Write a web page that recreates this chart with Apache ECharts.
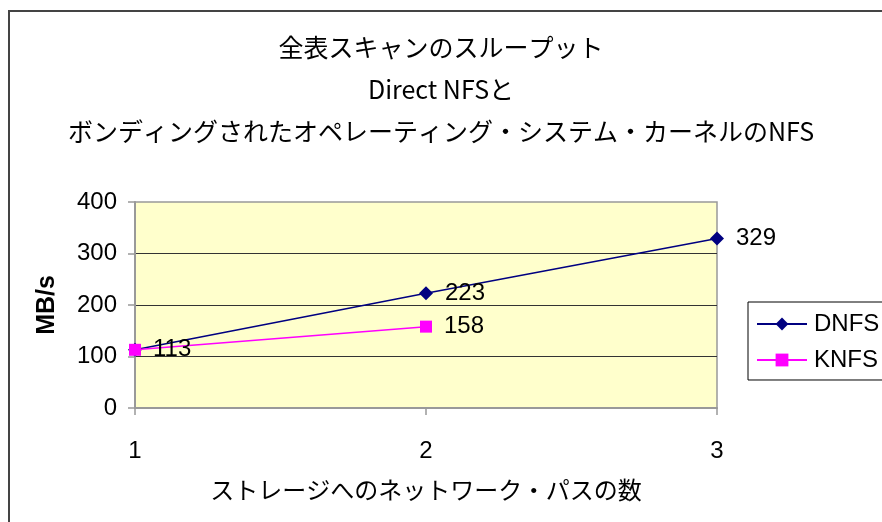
<!DOCTYPE html>
<html><head><meta charset="utf-8">
<script src="https://cdn.jsdelivr.net/npm/echarts@6/dist/echarts.min.js"></script>
<style>html,body{margin:0;padding:0;background:#fff}#c{width:882px;height:522px}</style>
</head><body><div id="c"></div>
<script>
const titleLines = ['全表スキャンのスループット', 'Direct NFSと', 'ボンディングされたオペレーティング・システム・カーネルのNFS'];
const xValues = [1, 2, 3];
const seriesNames = ['DNFS', 'KNFS'];
const dnfs = [113, 223, 329];
const knfs = [113, 158];
const yTicks = [0, 100, 200, 300, 400];
const xName = 'ストレージへのネットワーク・パスの数';
const yName = 'MB/s';

const latin = '"Liberation Sans", Arial, "Noto Sans CJK JP", sans-serif';
const cjk = '"Noto Sans CJK JP", "Liberation Sans", sans-serif';

const chart = echarts.init(document.getElementById('c'), null, {renderer: 'canvas'});
// DNFS label at x=1 coincides with KNFS label there; show it once
const toPairs = (arr, hideFirstLabel) => arr.map((v, i) => {
  const item = {value: [xValues[i], v]};
  if (hideFirstLabel && i === 0) item.label = {show: false};
  return item;
});
const labelFont = {fontFamily: latin, fontSize: 24, color: '#000'};

chart.setOption({
  animation: false,
  backgroundColor: '#fff',
  graphic: [{
    type: 'rect', silent: true, z: 100,
    shape: {x: 9, y: 11, width: 1000, height: 700},
    style: {fill: 'none', stroke: '#444', lineWidth: 2}
  }],
  title: {
    text: titleLines.join('\n'),
    left: 'center', top: 21,
    textStyle: {fontFamily: cjk, fontSize: 25, fontWeight: 'normal', color: '#000', lineHeight: 42}
  },
  legend: {
    left: 748, top: 302,
    orient: 'vertical',
    data: seriesNames,
    itemWidth: 50, itemHeight: 16, itemGap: 12,
    padding: [10, 60, 8, 8],
    borderColor: '#000', borderWidth: 1,
    backgroundColor: '#fff',
    textStyle: Object.assign({padding: [0, 0, 0, 2]}, labelFont)
  },
  grid: {
    left: 135, right: 165, top: 202, bottom: 114,
    show: true, backgroundColor: '#FFFFCC', borderColor: '#999', borderWidth: 1.5
  },
  xAxis: {
    type: 'value', min: 1, max: 3, interval: 1,
    name: xName, nameLocation: 'middle', nameGap: 70,
    nameTextStyle: {fontFamily: cjk, fontSize: 24, color: '#000'},
    axisLine: {show: true, lineStyle: {color: '#999', width: 2}},
    axisTick: {show: true, length: 7, lineStyle: {color: '#999', width: 1.5}},
    axisLabel: Object.assign({margin: 31}, labelFont),
    splitLine: {show: false}
  },
  yAxis: {
    type: 'value', min: yTicks[0], max: yTicks[yTicks.length - 1], interval: 100,
    name: yName, nameLocation: 'middle', nameGap: 75,
    nameTextStyle: {fontFamily: latin, fontSize: 25, fontWeight: 'bold', color: '#000'},
    axisLine: {show: true, lineStyle: {color: '#999', width: 2}},
    axisTick: {show: true, length: 7, lineStyle: {color: '#999', width: 1.5}},
    axisLabel: Object.assign({margin: 18}, labelFont),
    splitLine: {show: true, showMaxLine: false, showMinLine: false, lineStyle: {color: '#333', width: 1.2}}
  },
  series: [{
    name: seriesNames[0], type: 'line', data: toPairs(dnfs, true),
    symbol: 'diamond', symbolSize: 14,
    lineStyle: {color: '#000080', width: 1.5},
    itemStyle: {color: '#000080'},
    label: Object.assign({show: true, position: 'right', distance: 12, formatter: p => p.value[1]}, labelFont),
    z: 2
  }, {
    name: seriesNames[1], type: 'line', data: toPairs(knfs, false),
    symbol: 'rect', symbolSize: 12,
    lineStyle: {color: '#FF00FF', width: 1.5},
    itemStyle: {color: '#FF00FF'},
    label: Object.assign({show: true, position: 'right', distance: 12, formatter: p => p.value[1]}, labelFont),
    z: 3
  }]
});
</script>
</body></html>
